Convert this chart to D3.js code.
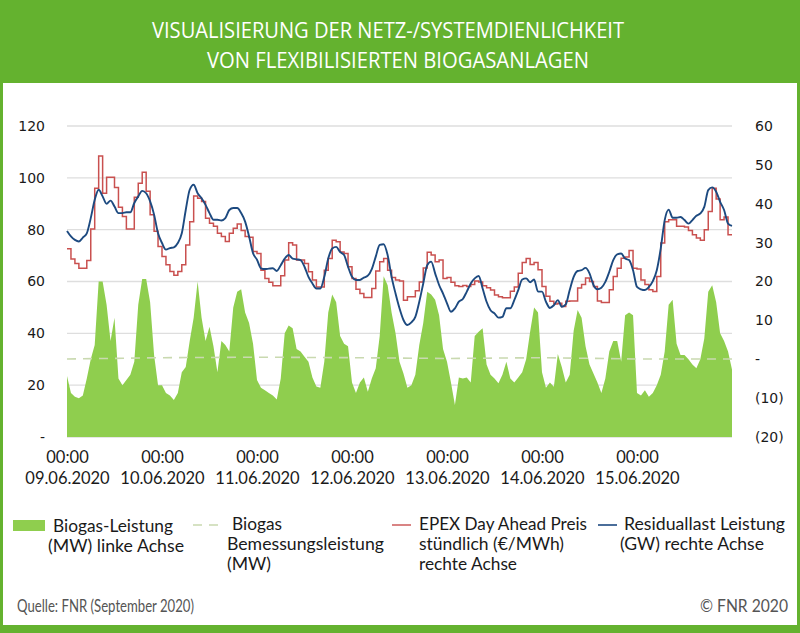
<!DOCTYPE html>
<html>
<head>
<meta charset="utf-8">
<script src="https://cdnjs.cloudflare.com/ajax/libs/d3/7.8.5/d3.min.js"></script>
<style>
html, body { margin: 0; padding: 0; background: #fff; }
svg { display: block; }
</style>
</head>
<body>
<svg id="chart" width="800" height="633"></svg>
<script>
const width = 800;
const height = 633;

const titleLines = [
    "VISUALISIERUNG DER NETZ-/SYSTEMDIENLICHKEIT",
    "VON FLEXIBILISIERTEN BIOGASANLAGEN"
];
const dayLabels = ["09.06.2020", "10.06.2020", "11.06.2020", "12.06.2020", "13.06.2020", "14.06.2020", "15.06.2020"];
const dayHours = [0, 24, 48, 72, 96, 120, 144];
const leftTicks = [0, 20, 40, 60, 80, 100, 120];
const rightTicks = [-20, -10, 0, 10, 20, 30, 40, 50, 60];

// hourly values, 09.06. 00:00 to 16.06. 00:00
const biogas = [
    23.5,17,15.5,15,16,22.6,30,35.5,60,60,51,37,46,22.6,20,22,24,29,51,61,61,52,31.6,20,
    20,17,16,14.3,17,25,27,37,46,60,46,37,42.5,35,25,37,35.5,33,50,56,57,48,44,36,
    22,19,18,17,16,14.5,22.6,40,43,42,34,33,31,29,23,19.5,19,29,48,55,52,39,36,35,
    21,17,21,23,17.5,22.6,26.5,39,62,58.6,48,40,29,24.5,19,20,24,35.5,44,56,55,53,47,34,
    29,21,12.3,23,22.6,23,21,39,40.6,42,28,24,22.6,20.7,24,29,22.6,21,23,25,30,40.6,50,48,
    25,19,21,19.4,32,27,21,24,41,49,46,35,28,24.5,21,17,22.6,33,37,37,29,47,48,47,
    17,16,18,15.5,17,20,24,33,51,53,36,31.6,31.6,30,28,26.5,30,38,56,58.6,52,40,37,33,26
];
const price = [
    28.4,25.8,24.6,23.4,23.4,25.4,33.5,44,52.3,42.7,46.8,46.8,44.2,39.1,36.7,33.5,33.5,41.7,45.3,48.1,43.2,37.2,32.9,29,
    26.4,24.3,22.6,21.6,22.6,24.3,29.4,35.4,42,41.4,40.6,36.3,35,34.2,32.4,31.6,30.3,32.4,33.7,34.8,33.1,31.6,31.4,27.7,
    27.2,22.9,20.8,19.8,18.9,18.9,21.5,25.5,30,29.4,25.5,25.5,24.6,22.5,20.4,18.6,18.6,22.9,25.9,30.6,30.2,27.6,27.2,23.8,
    20.8,18,16.9,15.9,15.9,18.2,22.7,25.1,25.9,22.9,21,20.4,20.1,15.2,16.1,16.1,17.6,19.9,23.5,27.5,26.8,25.1,25.5,20.8,
    21,19.8,18.9,18.7,19,18.7,19.2,20.1,19.9,18.9,18.4,17.8,16.5,16.1,15.8,15.8,17.5,18.6,22.1,24.9,25.9,24.4,24.9,23,
    18.7,16.2,14.9,14.2,14.4,13.6,14.9,15,15,18.3,19.2,20.9,20,18.7,15,14.6,14.6,17.9,21.3,23.4,26,26.3,28,23.4,
    23.2,20.4,19.2,17.9,17.4,21.3,29.9,35.4,35.9,35.9,34.2,34.2,34,33.1,32,31.2,30.6,33.3,38,44,41.2,35.9,36.6,32,32
];
const residual = [
    33,31.6,30.7,30.3,31.3,32.4,36.3,41,43.6,41.9,40,40.8,39.3,37.6,37.6,37.8,37.8,40.2,41.9,43.3,42.7,40.6,37.2,32.4,
    29.9,28.2,28.6,28.8,29.9,32.4,38.4,43.6,44.9,42.7,41.4,39.7,37.6,35.9,35.9,35.7,36.3,38.4,38.9,38.9,37.6,35.4,31.6,27.3,
    25.6,23.4,23.2,23.3,23.4,22.7,24.2,25.9,26.8,25.9,25.7,25.5,23.8,21.2,19.5,18.2,18.2,21.2,25.9,28.5,28.9,27.6,26.8,23.8,
    21.2,20.4,20.4,21,21.5,23.2,26.4,29.4,29.6,26.8,21.2,16.9,13.1,10.1,8.8,9.5,10.9,14.8,19.5,24.2,25.1,22.1,19.1,16.9,
    14.4,12.2,13.1,14.8,15.5,17.4,19.5,20.8,21.4,18.2,14.8,12.6,11.8,10.7,10.9,13.1,13.1,15.2,17.8,20.5,20.8,19.8,20.5,17.4,
    17.4,14.8,13.2,13.9,15.2,13.5,14.1,17.8,21.2,22.7,22.9,23.5,22.1,19.1,18,18.4,19.9,22.5,25.5,27,27.2,25.9,25.5,22.9,
    18.6,18,17.8,18.6,20.1,22.9,28.5,35.8,38.5,36.4,36.4,36.6,35.8,34.9,35.8,36.9,37.5,39.2,43.5,44.2,43.1,40.5,38.4,34.9,34.3
];
// rated output, one reading per day boundary
const ratedHours = [0, 24, 48, 72, 96, 120, 144, 168];
const rated = [30.1, 30.6, 30.8, 30.6, 30.3, 30.6, 30.1, 30.1];

const green = "#64b22f";
const areaGreen = "#8fce4e";
const red = "#c9504f";
const blue = "#1d4a80";
const dashColor = "#c9d9b0";

const svg = d3.select("#chart");

const x = d3.scaleLinear().domain([0, 168]).range([67, 732]);
const yLeft = d3.scaleLinear().domain([0, 120]).range([437, 126]);
const yRight = d3.scaleLinear().domain([-20, 60]).range([437, 126]);

// frame
svg.append("rect").attr("width", width).attr("height", height).attr("fill", green);
svg.append("rect").attr("x", 3).attr("y", 83).attr("width", 794).attr("height", 542).attr("fill", "#fff");

// squeezes a label to the measured width of the original lettering
function label(txt, px, py, w, opts = {}) {
    return svg.append("text")
        .attr("x", px)
        .attr("y", py)
        .attr("textLength", w)
        .attr("lengthAdjust", "spacingAndGlyphs")
        .attr("font-family", opts.font || "Lato, sans-serif")
        .attr("font-size", opts.size || 16.5)
        .attr("font-weight", opts.weight || 400)
        .attr("fill", opts.fill || "#1a1a1a")
        .text(txt);
}

label(titleLines[0], 152, 38, 472, { font: "'Open Sans', sans-serif", size: 22, weight: 500, fill: "#fff" });
label(titleLines[1], 207, 68, 382, { font: "'Open Sans', sans-serif", size: 22, weight: 500, fill: "#fff" });

// gridlines
svg.append("g")
    .selectAll("line")
    .data(leftTicks)
    .enter()
    .append("line")
    .attr("x1", x(0))
    .attr("x2", x(168))
    .attr("y1", d => yLeft(d))
    .attr("y2", d => yLeft(d))
    .attr("stroke", "#dedede")
    .attr("stroke-width", 1.3);

// axes
const axisLeft = d3.axisLeft(yLeft)
    .tickValues(leftTicks)
    .tickSize(0)
    .tickPadding(0)
    .tickFormat(d => d === 0 ? "-" : d);
const axisRight = d3.axisRight(yRight)
    .tickValues(rightTicks)
    .tickSize(0)
    .tickPadding(0)
    .tickFormat(d => d === 0 ? "-" : d < 0 ? "(" + (-d) + ")" : d);
const axisX = d3.axisBottom(x)
    .tickValues(dayHours)
    .tickSize(0)
    .tickPadding(0)
    .tickFormat(() => "00:00");

const gLeft = svg.append("g").attr("transform", "translate(45,0)").call(axisLeft);
const gRight = svg.append("g").attr("transform", "translate(755,0)").call(axisRight);
const gX = svg.append("g").attr("transform", "translate(0,451)").call(axisX);

[gLeft, gRight].forEach(g => {
    g.select(".domain").remove();
    g.selectAll("text")
        .attr("font-family", "'DejaVu Sans', sans-serif")
        .attr("font-size", 14)
        .attr("fill", "#1a1a1a");
});
gX.select(".domain").remove();
gX.selectAll("text")
    .attr("font-family", "Lato, sans-serif")
    .attr("font-size", 16.5)
    .attr("fill", "#1a1a1a")
    .attr("dy", "0.71em");
gX.selectAll(".tick")
    .append("text")
    .attr("text-anchor", "middle")
    .attr("y", 0)
    .attr("dy", "2em")
    .attr("font-family", "Lato, sans-serif")
    .attr("font-size", 16.5)
    .attr("fill", "#1a1a1a")
    .text((d, i) => dayLabels[i]);

// series
const area = d3.area()
    .x((d, i) => x(i))
    .y0(yLeft(0))
    .y1(d => yLeft(d));
svg.append("path").attr("d", area(biogas)).attr("fill", areaGreen);

const ratedLine = d3.line()
    .x((d, i) => x(ratedHours[i]))
    .y(d => yLeft(d));
svg.append("path")
    .attr("d", ratedLine(rated))
    .attr("fill", "none")
    .attr("stroke", dashColor)
    .attr("stroke-width", 1.6)
    .attr("stroke-dasharray", "9 7");

const priceLine = d3.line()
    .x((d, i) => x(i))
    .y(d => yRight(d))
    .curve(d3.curveStepAfter);
svg.append("path")
    .attr("d", priceLine(price))
    .attr("fill", "none")
    .attr("stroke", red)
    .attr("stroke-width", 1.5);

const residualLine = d3.line()
    .x((d, i) => x(i))
    .y(d => yRight(d))
    .curve(d3.curveMonotoneX);
svg.append("path")
    .attr("d", residualLine(residual))
    .attr("fill", "none")
    .attr("stroke", blue)
    .attr("stroke-width", 1.9);

// legend
svg.append("rect").attr("x", 13).attr("y", 520).attr("width", 32).attr("height", 11).attr("fill", areaGreen);
svg.append("line").attr("x1", 193).attr("x2", 218).attr("y1", 525).attr("y2", 525)
    .attr("stroke", dashColor).attr("stroke-width", 1.6).attr("stroke-dasharray", "9 7");
svg.append("line").attr("x1", 392).attr("x2", 411).attr("y1", 525).attr("y2", 525)
    .attr("stroke", red).attr("stroke-width", 1.4);
svg.append("line").attr("x1", 598).attr("x2", 617).attr("y1", 525).attr("y2", 525)
    .attr("stroke", blue).attr("stroke-width", 1.6);

label("Biogas-Leistung", 53, 532, 120);
label("(MW) linke Achse", 48, 552, 136);
label("Biogas", 232, 530, 50);
label("Bemessungsleistung", 227, 550, 157);
label("(MW)", 227, 570, 44);
label("EPEX Day Ahead Preis", 419, 530, 168);
label("stündlich (€/MWh)", 419, 550, 145);
label("rechte Achse", 419, 570, 98);
label("Residuallast Leistung", 624, 530, 161);
label("(GW) rechte Achse", 620, 550, 144);

// footer
label("Quelle: FNR (September 2020)", 17, 612, 177, { size: 16.5, fill: "#555" });
label("© FNR 2020", 700, 612, 88, { size: 16.5, fill: "#555" });
</script>
</body>
</html>
